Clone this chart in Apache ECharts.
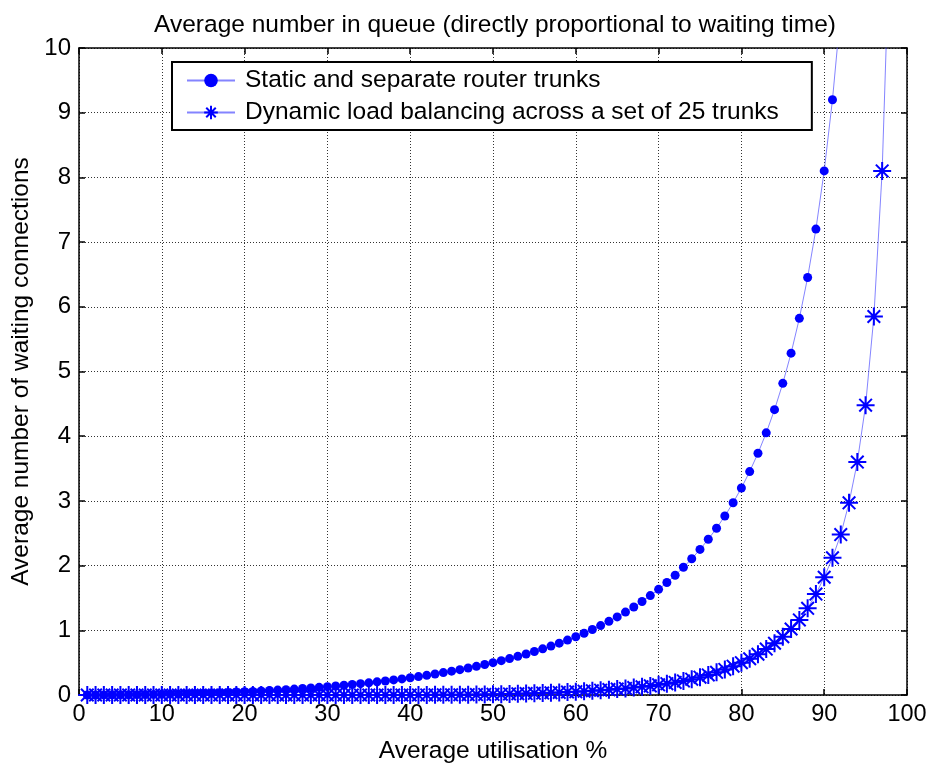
<!DOCTYPE html>
<html>
<head>
<meta charset="utf-8">
<script src="https://cdn.jsdelivr.net/npm/echarts@6/dist/echarts.min.js"></script>
<style>html,body{margin:0;padding:0;background:#fff;}#c{width:934px;height:769px;}</style>
</head>
<body>
<div id="c"></div>
<script>
const titleText = 'Average number in queue (directly proportional to waiting time)';
const xName = 'Average utilisation %';
const yName = 'Average number of waiting connections';
const seriesNames = ['Static and separate router trunks', 'Dynamic load balancing across a set of 25 trunks'];

const utilisation = [1,2,3,4,5,6,7,8,9,10,11,12,13,14,15,16,17,18,19,20,
21,22,23,24,25,26,27,28,29,30,31,32,33,34,35,36,37,38,39,40,
41,42,43,44,45,46,47,48,49,50,51,52,53,54,55,56,57,58,59,60,
61,62,63,64,65,66,67,68,69,70,71,72,73,74,75,76,77,78,79,80,
81,82,83,84,85,86,87,88,89,90,91,92,93,94,95,96,97,98,99];

const staticTrunks = [0.000,0.000,0.001,0.002,0.003,0.004,0.005,0.007,0.009,0.011,
0.014,0.016,0.019,0.023,0.026,0.030,0.035,0.040,0.045,0.050,
0.056,0.062,0.069,0.076,0.083,0.091,0.100,0.109,0.118,0.129,
0.139,0.151,0.163,0.175,0.188,0.203,0.217,0.233,0.249,0.267,
0.285,0.304,0.324,0.346,0.368,0.392,0.417,0.443,0.471,0.500,
0.531,0.563,0.598,0.634,0.672,0.713,0.756,0.801,0.849,0.900,
0.954,1.012,1.073,1.138,1.207,1.281,1.360,1.445,1.536,1.633,
1.738,1.851,1.974,2.106,2.250,2.407,2.578,2.766,2.972,3.200,
3.453,3.736,4.052,4.410,4.817,5.283,5.822,6.453,7.201,8.100,
9.201,10.580,12.356,14.727,18.050,23.040,31.360,48.020,98.010];

const dynamicTrunks = [0,0,0,0,0,0,0,0,0,0,
0,0,0,0,0,0,0,0,0,0,
0,0,0,0,0,0,0,0,0,0,
0,0,0,0,0,0,0,0,0,0,
0.001,0.001,0.002,0.002,0.003,0.004,0.005,0.007,0.009,0.011,
0.013,0.016,0.019,0.022,0.026,0.030,0.035,0.040,0.046,0.052,
0.059,0.066,0.074,0.083,0.092,0.102,0.114,0.127,0.141,0.157,
0.175,0.195,0.218,0.245,0.275,0.310,0.350,0.395,0.445,0.500,
0.560,0.630,0.710,0.800,0.900,1.020,1.160,1.340,1.560,1.820,
2.120,2.480,2.970,3.600,4.480,5.850,8.100,12.100,25.000];

const xTicks = {min: 0, max: 100, interval: 10};
const yTicks = {min: 0, max: 10, interval: 1};

const FONT = '"Liberation Sans", Arial, Helvetica, sans-serif';
const BLUE = '#0000ff';
const LINE = 'rgba(80,80,255,0.7)';
const asterisk = 'path://M0,-10L0,10M-10,0L10,0M-7,-7L7,7M-7,7L7,-7';

function pairs(xs, ys) { return xs.map((x, i) => [x, ys[i]]); }

const chart = echarts.init(document.getElementById('c'), null, {renderer: 'canvas'});
const axisCommon = {
  axisLine: {show: true, onZero: false, lineStyle: {color: '#000', width: 1.5}},
  axisTick: {show: true, inside: true, length: 6, lineStyle: {color: '#000', width: 1.5}},
  minorTick: {show: false}
};
chart.setOption({
  animation: false,
  backgroundColor: '#fff',
  title: {
    text: titleText, left: 490, top: 8, textAlign: 'center',
    textStyle: {fontFamily: FONT, fontSize: 24.5, fontWeight: 'normal', color: '#000'}
  },
  grid: {left: 79, right: 27, top: 48, bottom: 69, containLabel: false},
  legend: {
    orient: 'vertical', left: 172, top: 62,
    backgroundColor: '#fff', borderColor: '#000', borderWidth: 2,
    padding: [6, 33, 5, 14], itemGap: 7, itemWidth: 48, itemHeight: 17,
    textStyle: {fontFamily: FONT, fontSize: 24.5, color: '#000', padding: [0, 0, 0, 5]},
    data: seriesNames
  },
  xAxis: [
    Object.assign({}, axisCommon, {
      type: 'value', position: 'bottom', min: xTicks.min, max: xTicks.max, interval: xTicks.interval,
      name: xName, nameLocation: 'middle', nameGap: 44,
      nameTextStyle: {fontFamily: FONT, fontSize: 24.5, color: '#000'},
      axisLabel: {color: '#000', fontFamily: FONT, fontSize: 23.5, margin: 8},
      splitLine: {show: true, lineStyle: {color: '#333', width: 1, type: [1, 2]}}
    }),
    Object.assign({}, axisCommon, {
      type: 'value', position: 'top', min: xTicks.min, max: xTicks.max, interval: xTicks.interval,
      axisLabel: {show: false}, splitLine: {show: false}
    })
  ],
  yAxis: [
    Object.assign({}, axisCommon, {
      type: 'value', position: 'left', min: yTicks.min, max: yTicks.max, interval: yTicks.interval,
      name: yName, nameLocation: 'middle', nameGap: 45, nameRotate: 90,
      nameTextStyle: {fontFamily: FONT, fontSize: 24.5, color: '#000'},
      axisLabel: {color: '#000', fontFamily: FONT, fontSize: 24, margin: 8},
      splitLine: {show: true, lineStyle: {color: '#333', width: 1, type: [1, 2]}}
    }),
    Object.assign({}, axisCommon, {
      type: 'value', position: 'right', min: yTicks.min, max: yTicks.max, interval: yTicks.interval,
      axisLabel: {show: false}, splitLine: {show: false}
    })
  ],
  series: [
    {
      name: seriesNames[0], type: 'line', xAxisIndex: 0, yAxisIndex: 0,
      data: pairs(utilisation, staticTrunks), clip: true,
      symbol: 'circle', symbolSize: 9, showAllSymbol: true,
      lineStyle: {color: LINE, width: 1},
      itemStyle: {color: BLUE, borderWidth: 0}
    },
    {
      name: seriesNames[1], type: 'line', xAxisIndex: 0, yAxisIndex: 0,
      data: pairs(utilisation, dynamicTrunks), clip: true,
      symbol: asterisk, symbolSize: 18, showAllSymbol: true,
      lineStyle: {color: LINE, width: 1},
      itemStyle: {color: 'rgba(0,0,0,0)', borderColor: BLUE, borderWidth: 2}
    }
  ]
});
</script>
</body>
</html>
